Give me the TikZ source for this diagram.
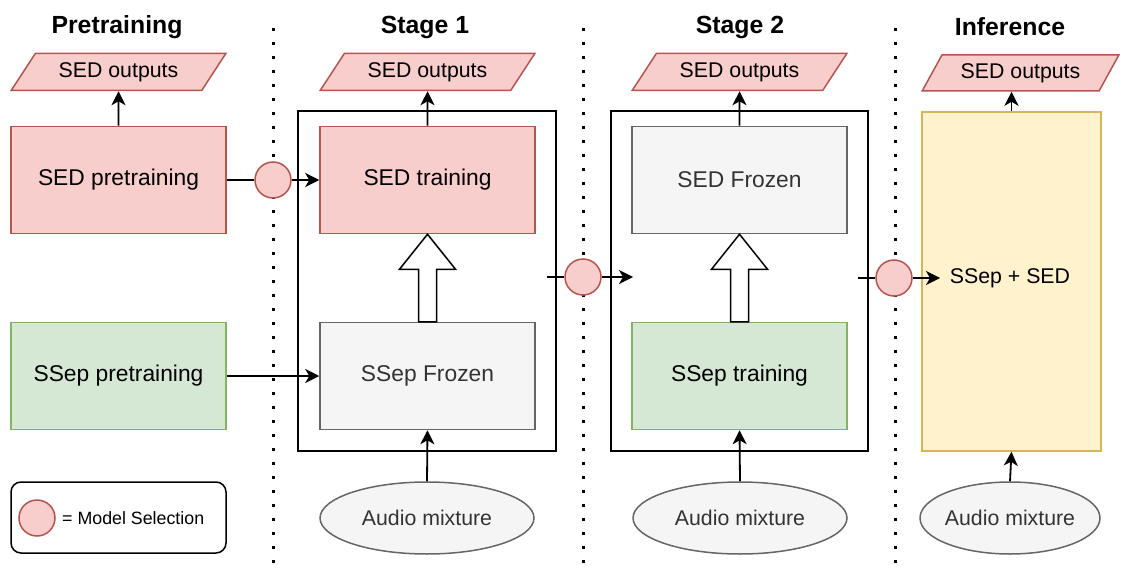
\documentclass[tikz,border=0pt]{standalone}
\usepackage{fontspec}
\setmainfont{Liberation Sans}
\usetikzlibrary{shapes.geometric,arrows.meta,calc}

\definecolor{redfill}{HTML}{F8CECC}
\definecolor{redline}{HTML}{B85450}
\definecolor{greenfill}{HTML}{D5E8D4}
\definecolor{greenline}{HTML}{82B366}
\definecolor{grayfill}{HTML}{F5F5F5}
\definecolor{grayline}{HTML}{666666}
\definecolor{graytext}{HTML}{333333}
\definecolor{yellowfill}{HTML}{FFF2CC}
\definecolor{yellowline}{HTML}{D6B656}

\tikzset{
  lbl/.style={font=\fontsize{21.3}{24}\selectfont},
  boxlbl/.style={font=\fontsize{22.8}{25}\selectfont},
  title/.style={font=\fontsize{24.8}{28}\selectfont\bfseries},
  box/.style={draw, rectangle, line width=1.5pt, minimum width=215pt, minimum height=107pt, inner sep=0pt, boxlbl},
  redbox/.style={box, fill=redfill, draw=redline},
  greenbox/.style={box, fill=greenfill, draw=greenline},
  graybox/.style={box, fill=grayfill, draw=grayline, text=graytext},
  stagebox/.style={draw=black, rectangle, line width=1.8pt, minimum width=258pt, minimum height=340pt, inner sep=0pt},
  outshape/.style={draw=redline, fill=redfill, line width=1.5pt, trapezium, trapezium stretches=true,
    trapezium left angle=48, trapezium right angle=132, minimum width=215pt, minimum height=37pt, inner sep=0pt, lbl},
  selcircle/.style={draw=redline, fill=redfill, line width=1.5pt, circle, minimum size=36pt, inner sep=0pt},
  mixture/.style={draw=grayline, fill=grayfill, line width=1.5pt, ellipse, minimum width=214pt, minimum height=72pt, inner sep=0pt},
  mixlabel/.style={lbl, text=graytext, inner sep=0pt},
  arr/.style={line width=1.8pt, -{Stealth[length=14pt,width=14pt,inset=4pt]}},
  conn/.style={line width=1.8pt},
  sep/.style={line width=3pt, dash pattern=on 3pt off 11pt},
  hollow/.style={draw, line width=1.5pt, fill=white, line join=miter},
}

\newcommand{\hollowarrow}[2]{%
  % wide outlined arrow from the top of #1 up to the bottom of #2
  \draw[hollow] ($(#1.north)+(-9pt,0)$) -- ($(#2.south)+(-9pt,-35pt)$) -- ($(#2.south)+(-28pt,-35pt)$)
    -- (#2.south) -- ($(#2.south)+(28pt,-35pt)$) -- ($(#2.south)+(9pt,-35pt)$) -- ($(#1.north)+(9pt,0)$) -- cycle;}

\begin{document}
\begin{tikzpicture}[x=1pt,y=-1pt]
  \useasboundingbox (0,0) rectangle (1126,572);

  % column separators
  \draw[sep] (273,28) -- (273,572);
  \draw[sep] (583,28) -- (583,572);
  \draw[sep] (895,28) -- (895,572);

  % column titles
  \node[title] (tpre) at (117,27) {Pretraining};
  \node[title] (tst1) at (425,27) {Stage 1};
  \node[title] (tst2) at (740,27) {Stage 2};
  \node[title] (tinf) at (1010,27) {Inference};

  % pretraining column
  \node[outshape] (out1) at (118.5,72) {SED outputs};
  \node[redbox] (sedpre) at (118.5,180) {SED pretraining};
  \node[greenbox] (ssppre) at (118.5,376) {SSep pretraining};

  % stage 1
  \node[stagebox] (stage1) at (427,281) {};
  \node[outshape] (out2) at (427.5,72) {SED outputs};
  \node[redbox] (sedtrain) at (427.5,180) {SED training};
  \node[graybox] (sspfrozen) at (427.5,376) {SSep Frozen};
  \node[mixture] (mix1) at (427,518) {};
  \node[mixlabel] (mix1t) at (mix1) {Audio mixture};

  % stage 2
  \node[stagebox, minimum width=257pt] (stage2) at (739.5,281) {};
  \node[outshape] (out3) at (739.5,72) {SED outputs};
  \node[graybox] (sedfrozen) at (739.5,180) {SED Frozen};
  \node[greenbox] (ssptrain) at (739.5,376) {SSep training};
  \node[mixture] (mix2) at (740,518) {};
  \node[mixlabel] (mix2t) at (mix2) {Audio mixture};

  % inference
  \node[outshape, minimum width=197pt, minimum height=36pt, trapezium left angle=52, trapezium right angle=128] (out4) at (1020.5,73) {SED outputs};
  \node[box, fill=yellowfill, draw=yellowline, minimum width=179pt, minimum height=339pt] (infer) at (1011.5,281.5) {};
  \node[lbl] (joint) at (1010,278) {SSep + SED};
  \node[mixture, minimum width=180pt] (mix3) at (1010,518) {};
  \node[mixlabel] (mix3t) at (mix3) {Audio mixture};

  % model selection points
  \node[selcircle] (c1) at (273,180) {};
  \node[selcircle] (c2) at (583,277) {};
  \node[selcircle] (c3) at (894,278) {};
  \coordinate (j1) at (547,277);
  \coordinate (j2) at (633,277);
  \coordinate (j3) at (858,278);
  \coordinate (j4) at (940,278);

  % connectors
  \draw[arr] (sedpre.north) -- (out1.south);
  \draw[conn] (sedpre.east) -- (c1.west);
  \draw[arr] (c1.east) -- (sedtrain.west);
  \draw[arr] (ssppre.east) -- (sspfrozen.west);

  \draw[arr] (sedtrain.north) -- (out2.south);
  \draw[arr] (mix1.north) -- (sspfrozen.south);
  \hollowarrow{sspfrozen}{sedtrain}

  \draw[conn] (j1) -- (c2.west);
  \draw[arr] (c2.east) -- (j2);

  \draw[arr] (sedfrozen.north) -- (out3.south);
  \draw[arr] (mix2.north) -- (ssptrain.south);
  \hollowarrow{ssptrain}{sedfrozen}

  \draw[conn] (j3) -- (c3.west);
  \draw[arr] (c3.east) -- (j4);
  \draw[arr] (infer.north) -- (infer.north |- out4.south);
  \draw[arr] (mix3.north) -- (infer.south);

  % legend
  \node[draw, line width=1.5pt, rounded corners=10pt, minimum width=215pt, minimum height=71pt] (legend) at (118.5,517.5) {};
  \node[selcircle] (lc) at (37,518) {};
  \node[anchor=west, inner sep=0pt, font=\fontsize{17.8}{20}\selectfont] (ltext) at (62,518) {= Model Selection};
\end{tikzpicture}
\end{document}
